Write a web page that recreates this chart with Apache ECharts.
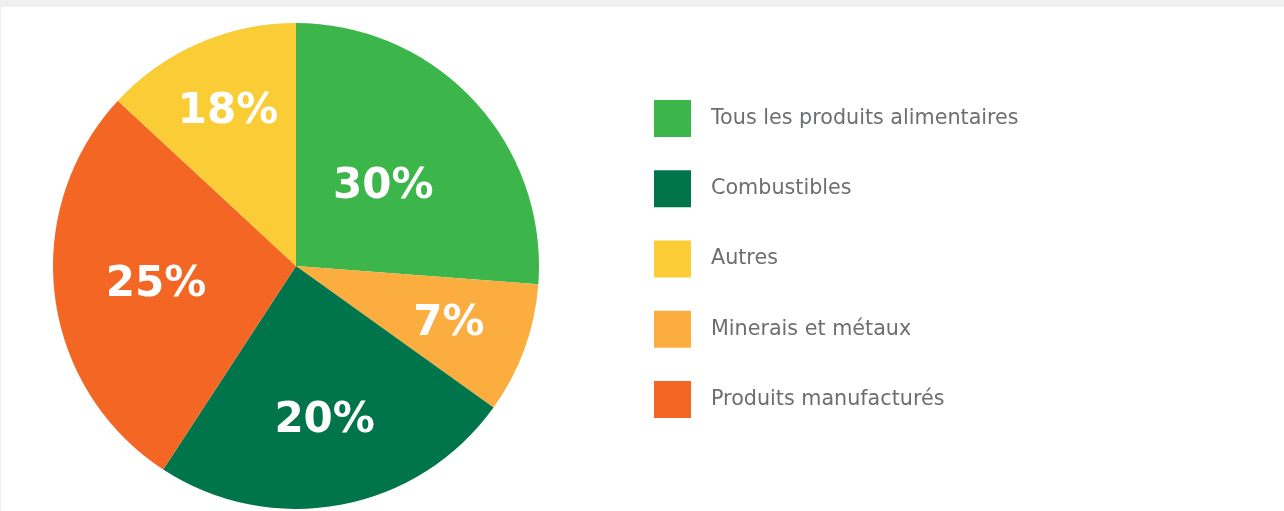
<!DOCTYPE html>
<html>
<head>
<meta charset="utf-8">
<script src="https://cdn.jsdelivr.net/npm/echarts@6/dist/echarts.min.js"></script>
<style>
  html, body { margin: 0; padding: 0; background: #efefef; }
  #chart { position: absolute; left: 1px; top: 7px; width: 1283px; height: 504px; background: #fff; }
</style>
</head>
<body>
<div id="chart"></div>
<script>
"use strict";

// slices clockwise from 12 o'clock
const categories = [
  "Tous les produits alimentaires",
  "Minerais et métaux",
  "Combustibles",
  "Produits manufacturés",
  "Autres",
];
// shares as drawn (angles)
const shares = [26.2, 8.7, 24.3, 27.7, 13.1];
// printed labels
const labels = ["30%", "7%", "20%", "25%", "18%"];
const legendOrder = [
  "Tous les produits alimentaires",
  "Combustibles",
  "Autres",
  "Minerais et métaux",
  "Produits manufacturés",
];

const colors = ["#3cb64a", "#fbad3f", "#00754b", "#f36624", "#facd36"];
// how far out each label sits, as a fraction of the radius
const labelRadius = [0.49, 0.67, 0.64, 0.58, 0.70];

const CX = 295, CY = 259, R = 243;

const total = shares.reduce((a, b) => a + b, 0);
const midAngles = [];
let acc = 0;
for (const v of shares) {
  midAngles.push(((acc + v / 2) / total) * Math.PI * 2);
  acc += v;
}

const chart = echarts.init(document.getElementById("chart"));

chart.setOption({
  animation: false,
  color: colors,
  legend: {
    data: legendOrder,
    orient: "vertical",
    left: 648,
    top: 88,
    icon: "rect",
    itemWidth: 37,
    itemHeight: 37,
    itemGap: 33.25,
    selectedMode: false,
    textStyle: {
      fontFamily: "DejaVu Sans",
      fontSize: 20.7,
      color: "#6d6e71",
      padding: [0, 0, 0, 15],
    },
  },
  series: [
    {
      type: "pie",
      center: [CX, CY],
      radius: [0, R],
      startAngle: 90,
      clockwise: true,
      silent: true,
      data: categories.map((name, i) => ({ name, value: shares[i] })),
      itemStyle: { borderWidth: 0 },
      label: {
        show: true,
        position: "inside",
        formatter: (p) => labels[p.dataIndex],
        color: "#fff",
        fontFamily: "DejaVu Sans",
        fontWeight: "bold",
        fontSize: 42,
      },
      labelLine: { show: false },
      labelLayout: (p) => {
        const a = midAngles[p.dataIndex];
        const f = labelRadius[p.dataIndex];
        return {
          x: CX + f * R * Math.sin(a),
          y: CY - f * R * Math.cos(a) + 2,
          align: "center",
          verticalAlign: "middle",
        };
      },
    },
  ],
});
</script>
</body>
</html>
